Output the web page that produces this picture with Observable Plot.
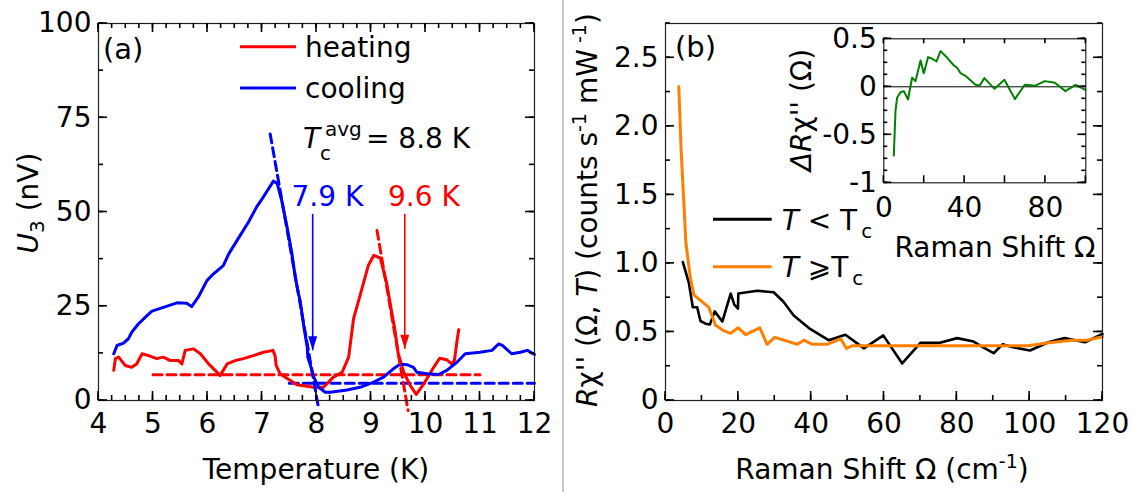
<!DOCTYPE html>
<html><head><meta charset="utf-8">
<script src="https://cdn.jsdelivr.net/npm/d3@7"></script>
<script src="https://cdn.jsdelivr.net/npm/@observablehq/plot@0.6"></script>
<style>
body{margin:0;background:#fff;}
#wrap{position:relative;width:1133px;height:492px;overflow:hidden;background:#fff;}
.pane{position:absolute;top:0;}
#sep{position:absolute;left:562px;top:0;width:2px;height:492px;background:#c8c8c8;}
</style></head><body>
<div id="wrap"><div id="pa" class="pane" style="left:0"></div><div id="sep"></div><div id="pb" class="pane" style="left:563px"></div><div id="pi" class="pane" style="left:783px"></div></div>
<script>
const FONT = '"DejaVu Sans", "Liberation Sans", sans-serif';

// ---------- panel (a) data: [temperature K, U3 nV] ----------
const heating = [[4.28,8.0],[4.31,11.1],[4.37,11.5],[4.49,9.3],[4.61,8.8],[4.70,9.7],[4.80,12.4],[4.92,11.9],[5.07,11.1],[5.19,11.5],[5.32,10.6],[5.47,10.6],[5.53,9.7],[5.59,13.3],[5.74,13.7],[5.87,12.4],[6.02,9.7],[6.14,8.0],[6.23,6.6],[6.36,9.7],[6.51,10.6],[6.66,11.1],[6.84,11.9],[7.03,12.8],[7.20,13.3],[7.24,11.9],[7.26,9.3],[7.33,7.1],[7.64,4.2],[7.95,3.5],[8.13,3.5],[8.31,6.2],[8.47,7.5],[8.59,11.5],[8.68,21.7],[8.80,27.9],[8.95,35.8],[9.05,38.5],[9.17,37.8],[9.29,31.0],[9.38,23.4],[9.44,18.6],[9.50,12.4],[9.60,7.5],[9.72,4.0],[9.83,1.6],[9.96,4.2],[10.15,8.8],[10.26,11.2],[10.39,10.8],[10.48,9.7],[10.53,10.6],[10.58,15.9],[10.61,18.8]];
const cooling = [[4.28,12.4],[4.34,14.6],[4.46,15.2],[4.55,16.4],[4.61,18.1],[4.73,20.3],[4.89,22.5],[4.98,23.7],[5.19,24.7],[5.44,25.9],[5.62,25.8],[5.71,24.9],[5.83,27.4],[5.99,31.8],[6.11,33.6],[6.29,35.8],[6.39,38.9],[6.54,42.4],[6.75,47.3],[6.90,51.3],[7.02,53.9],[7.10,55.7],[7.21,58.2],[7.28,57.5],[7.36,53.1],[7.46,46.0],[7.55,38.9],[7.61,32.7],[7.67,28.3],[7.70,26.5],[7.77,19.4],[7.83,14.1],[7.84,11.5],[7.88,9.7],[7.95,6.2],[8.04,3.5],[8.16,2.2],[8.25,2.2],[8.56,2.8],[8.80,3.5],[9.05,4.9],[9.23,6.2],[9.41,8.4],[9.54,9.7],[9.66,9.5],[9.78,8.8],[9.84,7.5],[10.03,7.1],[10.24,6.9],[10.39,8.0],[10.58,10.2],[10.73,12.4],[11.0,12.8],[11.22,13.3],[11.34,15.0],[11.41,14.6],[11.58,12.4],[11.74,12.8],[11.87,13.3],[12.0,12.2]];
// dashed guide lines
const heatingBase = [[5.0,6.8],[11.0,6.8]];
const coolingBase = [[7.5,4.6],[12.0,4.6]];
const heatingFit = [[9.11,45.1],[9.68,-2.65]];
const coolingFit = [[7.15,70.7],[8.04,-2.2]];
// Tc arrows and labels
const tcMarks = [
  {t: 7.93, from: 49.5, to: 13.3, label: "7.9 K", lt: 8.2, lu: 53.9, color: "#0000ff"},
  {t: 9.62, from: 49.5, to: 13.7, label: "9.6 K", lt: 9.97, lu: 53.9, color: "#ff0000"}
];
const tempTicks = [4,5,6,7,8,9,10,11,12];
const voltTicks = [0,25,50,75,100];

// ---------- panel (b) data: [Raman shift cm-1, R chi''] ----------
const belowTc = [[4.76,1.01],[6.4,0.86],[7.5,0.68],[8.7,0.68],[9.6,0.58],[11.0,0.56],[12.2,0.555],[13.5,0.65],[15.6,0.576],[17.9,0.78],[18.9,0.70],[19.9,0.67],[20.0,0.78],[25.2,0.80],[29.7,0.79],[32.4,0.72],[35.2,0.62],[39.8,0.52],[44.8,0.44],[49.4,0.48],[54.5,0.38],[59.8,0.475],[65.0,0.27],[70.0,0.42],[75.1,0.42],[80.1,0.455],[84.6,0.43],[87.1,0.39],[90.1,0.345],[92.6,0.41],[95.1,0.39],[100.1,0.365],[105.1,0.425],[109.6,0.455],[115.2,0.425],[120,0.485]];
const aboveTc = [[3.65,2.29],[4.3,1.82],[5.1,1.41],[5.6,1.15],[6.8,0.90],[7.8,0.77],[10.1,0.72],[11.9,0.68],[13.7,0.55],[15.9,0.51],[17.9,0.49],[20.0,0.53],[22.0,0.48],[25.9,0.53],[27.9,0.41],[30.0,0.46],[36.2,0.41],[38.0,0.44],[40.3,0.41],[44.4,0.41],[48.1,0.45],[49.7,0.38],[51.3,0.40],[99.6,0.40],[104.6,0.42],[111.7,0.44],[115.7,0.44],[120,0.465]];
const shiftTicks = [0,20,40,60,80,100,120];
const chiTicks = [0,0.5,1.0,1.5,2.0,2.5];

// ---------- inset data: [Raman shift, delta R chi''] ----------
const deltaChi = [[4.95,-0.715],[5.8,-0.247],[6.6,-0.115],[8.25,-0.056],[9.9,-0.045],[12.0,-0.132],[14.0,0.094],[15.7,0.059],[18.2,0.274],[19.8,0.142],[21.9,0.309],[23.9,0.292],[26.1,0.264],[28.1,0.372],[31.4,0.302],[34.7,0.222],[36.3,0.198],[38.0,0.142],[40.4,0.115],[45.4,0.021],[47.5,0.014],[49.8,0.09],[54.8,-0.021],[59.7,0.073],[64.9,-0.128],[69.8,0.021],[74.8,0.010],[79.7,0.059],[84.7,0.042],[89.9,-0.045],[94.9,0.021],[99.8,-0.031]];
const insetShiftTicks = [0,40,80];
const insetShiftMinor = [0,20,40,60,80,100];
const insetChiTicks = [-1,-0.5,0,0.5];

// ---------- helpers ----------
const X = d => d[0], Y = d => d[1];
function labelSet(axis, anchor, major, fmt, pad) {
  const f = axis === "x" ? Plot.axisX : Plot.axisY;
  return f({ticks: major, anchor, tickSize: 0, tickPadding: pad, tickFormat: fmt, label: null, fontSize: 28, fill: "#000"});
}
// inward frame ticks placed with the chart's own scales
function frameTicks(svg, M, specs) {
  const sx = svg.scale("x"), sy = svg.scale("y");
  const g = d3.select(svg).append("g").attr("class", "frame-ticks");
  const left = M.l, right = M.w - M.r, top = M.t, bottom = M.h - M.b;
  for (const {axis, side, values, len} of specs) {
    for (const v of values) {
      const ln = g.append("line").attr("stroke", "#000").attr("stroke-width", 1.6);
      if (axis === "x") {
        const x = sx.apply(v);
        const y0 = side === "bottom" ? bottom : top, y1 = side === "bottom" ? bottom - len : top + len;
        ln.attr("x1", x).attr("x2", x).attr("y1", y0).attr("y2", y1);
      } else {
        const y = sy.apply(v);
        const x0 = side === "left" ? left : right, x1 = side === "left" ? left + len : right - len;
        ln.attr("x1", x0).attr("x2", x1).attr("y1", y).attr("y2", y);
      }
    }
  }
}
function rich(svg, x, y, html, {rotate = 0, anchor = "start", size = 28, fill = "#000"} = {}) {
  d3.select(svg).append("text")
    .attr("transform", `translate(${x},${y})` + (rotate ? ` rotate(${rotate})` : ""))
    .attr("text-anchor", anchor).attr("font-size", size).attr("fill", fill)
    .attr("font-family", FONT).html(html);
}
function swatch(svg, x1, x2, y, color) {
  d3.select(svg).append("line").attr("x1", x1).attr("x2", x2).attr("y1", y).attr("y2", y)
    .attr("stroke", color).attr("stroke-width", 3);
}
const headDown = {draw(ctx) { ctx.moveTo(0, 0); ctx.lineTo(-4.5, -14); ctx.lineTo(4.5, -14); ctx.closePath(); }};
const baseStyle = {fontFamily: FONT, fontSize: "28px", background: "transparent", overflow: "visible"};

// ---------- panel (a) ----------
const A = {w: 563, h: 492, l: 98, r: 29, t: 23, b: 92};
const tempMinor = d3.range(4, 12.001, 0.25), voltMinor = d3.range(0, 100.1, 12.5);
const dash = {strokeWidth: 3, strokeDasharray: "9,5"};
const pa = Plot.plot({
  width: A.w, height: A.h, marginLeft: A.l, marginRight: A.r, marginTop: A.t, marginBottom: A.b,
  x: {domain: [4, 12]}, y: {domain: [0, 100]},
  style: baseStyle,
  marks: [
    labelSet("x", "bottom", tempTicks, d => String(d), 13),
    labelSet("y", "left", voltTicks, d => String(d), 7),
    Plot.line(heatingBase, {x: X, y: Y, stroke: "#ff0000", ...dash}),
    Plot.line(coolingBase, {x: X, y: Y, stroke: "#0000ff", ...dash}),
    Plot.line(heating, {x: X, y: Y, stroke: "#ff0000", strokeWidth: 3, strokeLinejoin: "round"}),
    Plot.line(cooling, {x: X, y: Y, stroke: "#0000ff", strokeWidth: 3, strokeLinejoin: "round"}),
    Plot.line(heatingFit, {x: X, y: Y, stroke: "#ff0000", ...dash}),
    Plot.line(coolingFit, {x: X, y: Y, stroke: "#0000ff", ...dash}),
    ...tcMarks.flatMap(m => [
      Plot.link([m], {x1: "t", x2: "t", y1: "from", y2: "to", stroke: m.color, strokeWidth: 1.6}),
      Plot.dot([m], {x: "t", y: "to", symbol: headDown, fill: m.color, stroke: "none", r: 5}),
      Plot.text([m], {x: "lt", y: "lu", text: "label", fill: m.color, fontSize: 28, textAnchor: "middle"})
    ]),
    Plot.frame({stroke: "#222", strokeWidth: 1.2})
  ]
});
document.getElementById("pa").append(pa);
frameTicks(pa, A, [
  {axis: "x", side: "bottom", values: tempMinor, len: 5}, {axis: "x", side: "bottom", values: tempTicks, len: 9},
  {axis: "x", side: "top", values: tempMinor, len: 5}, {axis: "x", side: "top", values: tempTicks, len: 9},
  {axis: "y", side: "left", values: voltMinor, len: 5}, {axis: "y", side: "left", values: voltTicks, len: 9},
  {axis: "y", side: "right", values: voltMinor, len: 5}, {axis: "y", side: "right", values: voltTicks, len: 9}
]);
rich(pa, 103, 59, "(a)", {size: 29});
swatch(pa, 240, 296, 46.7, "#ff0000");
swatch(pa, 240, 296, 88, "#0000ff");
rich(pa, 305, 57, "heating");
rich(pa, 305, 98, "cooling");
rich(pa, 0, 0, '<tspan x="303" y="148" font-style="italic">T</tspan><tspan x="320" y="160" font-size="20">c</tspan><tspan x="325" y="136" font-size="20">avg</tspan><tspan x="366" y="148">= 8.8 K</tspan>');
rich(pa, 38, 203, '<tspan font-style="italic">U</tspan><tspan font-size="20" dy="6">3</tspan><tspan dy="-6"> (nV)</tspan>', {rotate: -90, anchor: "middle"});
rich(pa, 316, 479, "Temperature (K)", {anchor: "middle"});

// ---------- panel (b) ----------
const B = {w: 570, h: 492, l: 102, r: 31, t: 23, b: 92};
const shiftMinor = d3.range(0, 120.1, 10), chiMinor = d3.range(0, 2.751, 0.25);
const pb = Plot.plot({
  width: B.w, height: B.h, marginLeft: B.l, marginRight: B.r, marginTop: B.t, marginBottom: B.b,
  x: {domain: [0, 120]}, y: {domain: [0, 2.75]},
  style: baseStyle,
  marks: [
    labelSet("x", "bottom", shiftTicks, d => String(d), 13),
    labelSet("y", "left", chiTicks, d => d === 0 ? "0" : d.toFixed(1), 7),
    Plot.line(belowTc, {x: X, y: Y, stroke: "#000", strokeWidth: 2.6, strokeLinejoin: "round"}),
    Plot.line(aboveTc, {x: X, y: Y, stroke: "#ff8000", strokeWidth: 3, strokeLinejoin: "round"}),
    Plot.frame({stroke: "#222", strokeWidth: 1.2})
  ]
});
document.getElementById("pb").append(pb);
frameTicks(pb, B, [
  {axis: "x", side: "bottom", values: shiftMinor, len: 5}, {axis: "x", side: "bottom", values: shiftTicks, len: 9},
  {axis: "y", side: "left", values: chiMinor, len: 5}, {axis: "y", side: "left", values: chiTicks, len: 9},
  {axis: "y", side: "right", values: chiMinor, len: 5}, {axis: "y", side: "right", values: chiTicks, len: 9}
]);
rich(pb, 112, 57, "(b)", {size: 29});
swatch(pb, 150, 208.7, 219.3, "#000");
swatch(pb, 150, 208.7, 266.7, "#ff8000");
rich(pb, 218.7, 229.5, '<tspan font-style="italic">T</tspan> &lt; T<tspan font-size="20" dx="4" dy="8">c</tspan>');
rich(pb, 218.7, 277, '<tspan font-style="italic">T</tspan> ⩾T<tspan font-size="20" dx="4" dy="8">c</tspan>');
rich(pb, 34, 210, '<tspan font-style="italic">R</tspan>χ\'\' (Ω, <tspan font-style="italic">T</tspan>) (counts s<tspan font-size="19" dy="-11">-1</tspan><tspan dy="11"> mW</tspan><tspan font-size="19" dy="-11"> -1</tspan><tspan dy="11">)</tspan>', {rotate: -90, anchor: "middle"});
rich(pb, 319, 479, 'Raman Shift Ω (cm<tspan font-size="19" dy="-11">-1</tspan><tspan dy="11">)</tspan>', {anchor: "middle"});

// ---------- inset ----------
const I = {w: 320, h: 260, l: 100.3, r: 17.7, t: 38.3, b: 77.7};
const insetChiMinor = d3.range(-1, 0.501, 0.125);
const pi = Plot.plot({
  width: I.w, height: I.h, marginLeft: I.l, marginRight: I.r, marginTop: I.t, marginBottom: I.b,
  x: {domain: [0, 100]}, y: {domain: [-1, 0.5]},
  style: baseStyle,
  marks: [
    labelSet("x", "bottom", insetShiftTicks, d => String(d), 14),
    labelSet("y", "left", insetChiTicks, d => String(d), 7),
    Plot.ruleY([0], {stroke: "#000", strokeWidth: 1}),
    Plot.line(deltaChi, {x: X, y: Y, stroke: "#008000", strokeWidth: 2, strokeLinejoin: "round"}),
    Plot.frame({stroke: "#222", strokeWidth: 1.2})
  ]
});
document.getElementById("pi").append(pi);
frameTicks(pi, I, [
  {axis: "x", side: "bottom", values: insetShiftMinor, len: 7}, {axis: "x", side: "top", values: insetShiftMinor, len: 5},
  {axis: "y", side: "left", values: insetChiMinor, len: 4}, {axis: "y", side: "left", values: insetChiTicks, len: 8},
  {axis: "y", side: "right", values: insetChiMinor, len: 4}, {axis: "y", side: "right", values: insetChiTicks, len: 8}
]);
rich(pi, 28, 110, '<tspan font-style="italic">ΔR</tspan>χ\'\' (Ω)', {rotate: -90, anchor: "middle"});
rich(pi, 212, 257, "Raman Shift Ω", {anchor: "middle"});
</script>
</body></html>
